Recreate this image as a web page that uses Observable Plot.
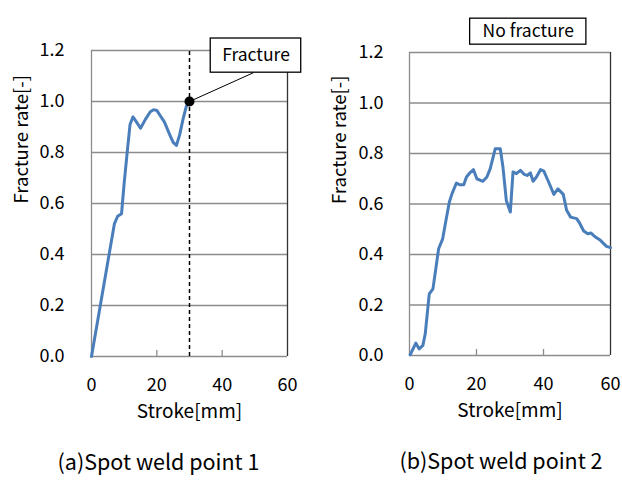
<!DOCTYPE html>
<html>
<head>
<meta charset="utf-8">
<script src="https://cdn.jsdelivr.net/npm/d3@7"></script>
<script src="https://cdn.jsdelivr.net/npm/@observablehq/plot@0.6"></script>
<style>
  html, body { margin: 0; padding: 0; background: white; }
  #wrap { display: flex; width: 622px; height: 484px; }
</style>
</head>
<body>
<div id="wrap"></div>
<script>
// ---- data ----
const xTicks = [0, 20, 40, 60];
const yTicks = [0, 0.2, 0.4, 0.6, 0.8, 1.0, 1.2];

const strokeA = [0, 7, 8, 9.2, 10, 11, 11.8, 12.7, 14, 15, 16.5, 18, 19, 20, 21, 22.3, 24, 25, 26, 27, 28, 29, 30];
const rateA   = [0, 0.52, 0.55, 0.56, 0.68, 0.81, 0.91, 0.94, 0.915, 0.895, 0.93, 0.96, 0.968, 0.965, 0.945, 0.92, 0.868, 0.84, 0.828, 0.87, 0.93, 0.98, 1.0];

const strokeB = [0.2, 1.9, 2.9, 4.0, 4.7, 5.9, 7.0, 8.7, 9.9, 10.7, 11.9, 12.7, 14.0, 15.0, 16.2, 17.0, 18.0, 19.1, 20.1, 21.9, 23.1, 24.1, 25.6, 27.1, 27.9, 28.9, 30.1, 30.9, 31.9, 33.1, 34.3, 35.1, 36.1, 36.9, 37.9, 39.1, 40.1, 41.3, 43.1, 44.3, 45.9, 46.9, 48.1, 49.9, 50.8, 52.0, 53.2, 54.2, 55.5, 57.0, 58.8, 60.0];
const rateB   = [0.003, 0.049, 0.026, 0.04, 0.086, 0.244, 0.264, 0.423, 0.462, 0.522, 0.608, 0.641, 0.683, 0.676, 0.676, 0.707, 0.723, 0.736, 0.70, 0.69, 0.707, 0.74, 0.819, 0.819, 0.746, 0.614, 0.568, 0.727, 0.72, 0.733, 0.717, 0.713, 0.723, 0.69, 0.707, 0.736, 0.73, 0.694, 0.638, 0.66, 0.638, 0.575, 0.548, 0.542, 0.524, 0.493, 0.482, 0.485, 0.469, 0.456, 0.432, 0.427];

const xLabel = "Stroke[mm]";
const yLabel = "Fracture rate[-]";
const captions = ["(a)Spot weld point 1", "(b)Spot weld point 2"];
const noteA = {label: "Fracture", x1: 36.5, x2: 64.2, y1: 1.113, y2: 1.247, lx: 49.6};
const noteB = {label: "No fracture", x1: 18.1, x2: 52.8, y1: 1.231, y2: 1.334};

// ---- drawing ----
const FONT = "'Noto Sans CJK JP', 'Noto Sans', sans-serif";
const BLUE = "#4a7ebb";
const GRID = "#8c8c8c";

function panel(xs, ys, cfg) {
  const data = xs.map((x, i) => ({x, y: ys[i]}));
  const marks = [
    Plot.gridY({ticks: yTicks.slice(1), stroke: GRID, strokeOpacity: 1, strokeWidth: 1.3}),
    Plot.ruleX([0], {stroke: GRID, strokeWidth: 1.3}),
    Plot.ruleY([0], {stroke: GRID, strokeWidth: 1.3}),
    Plot.ruleX([60], {stroke: "#333", strokeWidth: 1.3}),
    Plot.ruleX(xTicks.slice(1, -1), {y1: 0, y2: 0.024, stroke: GRID, strokeWidth: 1.3}),
    Plot.axisY({ticks: yTicks, tickSize: 0, tickPadding: cfg.yPad, tickFormat: d3.format(".1f"), label: null, fontSize: 18}),
    Plot.axisX({ticks: xTicks, tickSize: 0, tickPadding: 22, label: null, fontSize: 18}),
    Plot.text([yLabel], {frameAnchor: "left", rotate: -90, dx: cfg.yTitleDx, fontSize: 18.5}),
    Plot.text([xLabel], {frameAnchor: "bottom", dy: 61, fontSize: 19}),
    Plot.text([cfg.caption], {frameAnchor: "bottom", dy: 113, dx: cfg.capDx, fontSize: 21.5}),
    ...cfg.extra(data),
    Plot.lineY(data, {x: "x", y: "y", stroke: BLUE, strokeWidth: 3, strokeLinejoin: "round"})
  ];
  if (cfg.after) marks.push(...cfg.after(data));
  return Plot.plot({
    width: 311, height: 484,
    marginLeft: cfg.ml, marginRight: cfg.mr, marginTop: cfg.mt, marginBottom: cfg.mb,
    x: {domain: [0, 60], axis: null},
    y: {domain: [0, 1.2], axis: null},
    style: {fontFamily: FONT, color: "#000", background: "white", overflow: "visible"},
    marks
  });
}

function box(note, fs) {
  return [
    Plot.rect([note], {x1: "x1", x2: "x2", y1: "y1", y2: "y2", fill: "white", stroke: "black", strokeWidth: 1.3}),
    Plot.text([note], {x: d => (d.x1 + d.x2) / 2, y: d => (d.y1 + d.y2) / 2, text: "label", fontSize: fs})
  ];
}

const chartA = panel(strokeA, rateA, {
  ml: 91, mr: 24, mt: 50, mb: 128, yPad: 27, yTitleDx: -69, capDx: -31,
  caption: captions[0],
  extra: (data) => [
    Plot.ruleX([data[data.length - 1]], {x: "x", y1: 0, y2: 1.2, stroke: "black", strokeWidth: 1.5, strokeDasharray: "4,3"})
  ],
  after: (data) => {
    const p = data[data.length - 1];
    return [
      Plot.link([p], {x1: "x", y1: "y", x2: () => noteA.lx, y2: () => noteA.y1, stroke: "black", strokeWidth: 1}),
      ...box(noteA, 17.5),
      Plot.dot([p], {x: "x", y: "y", r: 5, fill: "black"})
    ];
  }
});

const chartB = panel(strokeB, rateB, {
  ml: 98, mr: 12, mt: 52, mb: 129, yPad: 26, yTitleDx: -69, capDx: -9,
  caption: captions[1],
  extra: () => [],
  after: () => box(noteB, 17.5)
});

const wrap = document.getElementById("wrap");
wrap.append(chartA, chartB);
</script>
</body>
</html>
